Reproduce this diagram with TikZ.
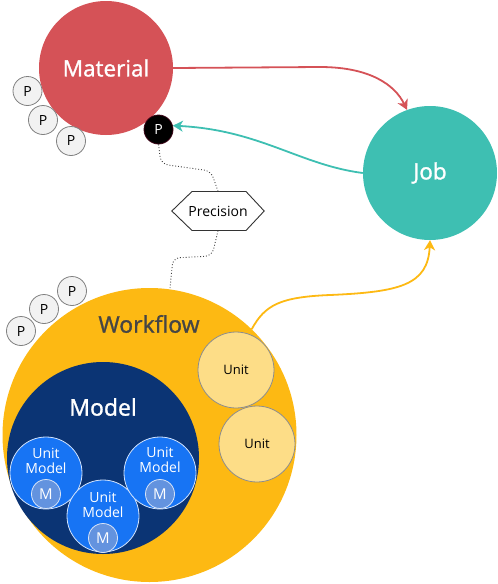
\documentclass[tikz,border=0pt]{standalone}
\usepackage{fontspec}
\setmainfont{Open Sans}
\newfontfamily\semib[FakeBold=1.2]{Open Sans}
\usetikzlibrary{arrows.meta}
\definecolor{matred}{HTML}{D55257}
\definecolor{jobteal}{HTML}{3EBFB2}
\definecolor{wfyellow}{HTML}{FDB913}
\definecolor{modelnavy}{HTML}{0B3474}
\definecolor{umblue}{HTML}{1774F4}
\definecolor{mblue}{HTML}{6393DF}
\definecolor{unityellow}{HTML}{FDDD87}
\definecolor{pgray}{HTML}{F2F2F2}
\definecolor{pborder}{HTML}{808080}
\definecolor{wftext}{HTML}{454545}
\tikzset{
  big/.style={circle, inner sep=0pt, minimum size=134pt, text=white, font=\semib\fontsize{22.5}{26}\selectfont},
  pcirc/.style={circle, inner sep=0pt, minimum size=29pt, fill=pgray, draw=pborder, line width=0.8pt, font=\fontsize{14}{16}\selectfont},
  pblk/.style={circle, inner sep=0pt, minimum size=29pt, fill=black, draw=black!70!purple, line width=0.8pt, text=white, font=\fontsize{14}{16}\selectfont},
  umcirc/.style={circle, inner sep=0pt, minimum size=72pt, fill=umblue, draw=white!80!umblue, line width=0.8pt},
  mcirc/.style={circle, inner sep=0pt, minimum size=29pt, fill=mblue, draw=white!75!mblue, line width=0.8pt, text=white, font=\fontsize{15}{17}\selectfont},
  umtext/.style={text=white, align=center, font=\fontsize{14}{15.5}\selectfont},
  unitcirc/.style={circle, inner sep=0pt, minimum size=76pt, fill=unityellow, draw=pborder!90, line width=0.8pt, font=\fontsize{13}{15}\selectfont},
  conn/.style={line width=1.8pt, -{Stealth[length=10pt,width=11pt,inset=3pt]}},
  dots/.style={dotted, line width=0.9pt, black!75},
}
\begin{document}
\begin{tikzpicture}[x=1pt,y=-1pt]
\useasboundingbox (0,0) rectangle (498,584);
% main circles
\node[big, fill=matred] (mat) at (106,68) {Material};
\node[big, fill=jobteal] (job) at (430,173) {Job};
\node[circle, inner sep=0pt, minimum size=294pt, fill=wfyellow] (wf) at (149.5,435) {};
\node[text=wftext, font=\semib\fontsize{23}{27}\selectfont] (wft) at (149,324) {Workflow};
\node[circle, inner sep=0pt, minimum size=192pt, fill=modelnavy] (model) at (103,458) {};
\node[text=white, font=\semib\fontsize{23}{27}\selectfont] (modelt) at (103,407) {Model};
% unit models
\node[umcirc] (um1) at (46,473) {};
\node[umcirc] (um2) at (103,516) {};
\node[umcirc] (um3) at (160,473) {};
\node[mcirc] (m1) at (46,494) {M};
\node[mcirc] (m2) at (103,538) {M};
\node[mcirc] (m3) at (160,494) {M};
\node[umtext] (um1t) at (46,461) {Unit\\Model};
\node[umtext] (um2t) at (103,505) {Unit\\Model};
\node[umtext] (um3t) at (160,460) {Unit\\Model};
% units
\node[unitcirc] (u1) at (236,370) {Unit};
\node[unitcirc] (u2) at (257,444) {Unit};
% P circles
\node[pcirc] (p1) at (27.5,91) {P};
\node[pcirc] (p2) at (43,120) {P};
\node[pcirc] (p3) at (71,141) {P};
\node[pblk] (pb) at (158.5,129.5) {P};
\node[pcirc] (p4) at (72,291) {P};
\node[pcirc] (p5) at (44,309) {P};
\node[pcirc] (p6) at (21,331) {P};
% precision hexagon
\node[minimum width=92pt, minimum height=39pt, inner sep=0pt, font=\fontsize{14}{16}\selectfont] (prec) at (218,211) {Precision};
\draw[line width=0.9pt, black!80] (prec.west) -- (192,191.5) -- (246,191.5) -- (prec.east) -- (246,230.5) -- (192,230.5) -- cycle;
% dotted connectors
\draw[dots, rounded corners=7pt] (pb.south) -- (161,164) -- (211,171) -- (prec.north);
\draw[dots, rounded corners=7pt] (prec.south) -- (212,256) -- (173,258) -- (170,288);
% arrows
\draw[conn, matred] (mat.east) -- (320,67) .. controls (370,67) and (395,85) .. (job.110);
\draw[conn, jobteal] (job.west) .. controls (300,165) and (260,130) .. (pb.15);
\draw[conn, wfyellow] (wf.46) .. controls (265,305) and (280,297) .. (330,295) .. controls (400,292) and (428,285) .. (job.south);
\end{tikzpicture}
\end{document}
